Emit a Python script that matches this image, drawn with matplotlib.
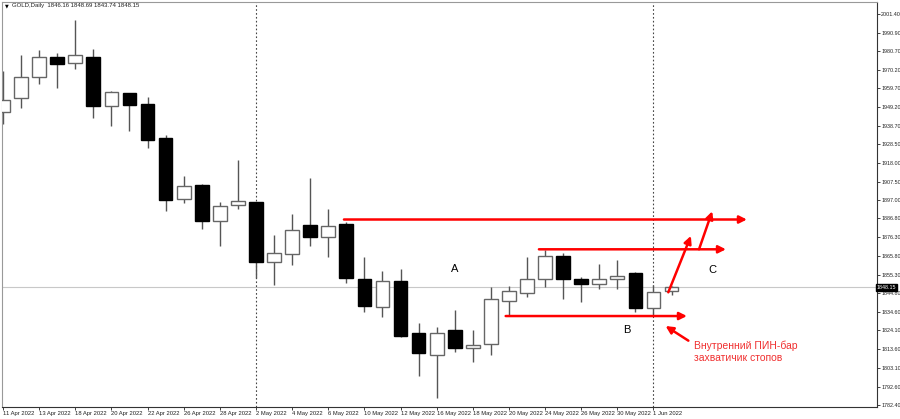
import matplotlib
matplotlib.use("Agg")
import matplotlib.pyplot as plt
import numpy as np

# GOLD daily candles, 11 Apr - 2 Jun 2022
dates = ["11 Apr", "12 Apr", "13 Apr", "14 Apr", "18 Apr", "19 Apr", "20 Apr", "21 Apr",
         "22 Apr", "25 Apr", "26 Apr", "27 Apr", "28 Apr", "29 Apr", "2 May", "3 May",
         "4 May", "5 May", "6 May", "9 May", "10 May", "11 May", "12 May", "13 May",
         "16 May", "17 May", "18 May", "19 May", "20 May", "23 May", "24 May", "25 May",
         "26 May", "27 May", "30 May", "31 May", "1 Jun", "2 Jun"]
opens = [1946.3, 1954.2, 1966.3, 1977.1, 1973.8, 1977.5, 1949.7, 1957.0,
         1951.0, 1931.7, 1897.5, 1905.4, 1885.2, 1894.2, 1895.9, 1862.2,
         1867.1, 1883.1, 1876.2, 1883.5, 1853.0, 1837.3, 1851.9, 1822.4,
         1810.1, 1824.0, 1814.0, 1816.3, 1840.4, 1845.2, 1852.7, 1865.9,
         1852.7, 1849.9, 1852.7, 1856.1, 1836.6, 1846.16]
highs = [1969.5, 1978.4, 1981.1, 1979.7, 1998.0, 1981.6, 1958.2, 1957.3,
         1955.0, 1933.6, 1910.8, 1906.3, 1896.2, 1919.6, 1896.2, 1877.5,
         1889.3, 1909.3, 1891.9, 1885.0, 1865.0, 1857.5, 1858.3, 1828.2,
         1826.1, 1835.5, 1824.2, 1848.6, 1848.8, 1865.0, 1869.1, 1867.6,
         1853.8, 1861.3, 1863.5, 1857.0, 1849.5, 1848.69]
lows = [1939.7, 1948.9, 1962.3, 1959.8, 1970.4, 1942.9, 1938.5, 1936.0,
        1926.1, 1890.8, 1895.3, 1880.7, 1871.4, 1891.9, 1853.3, 1849.5,
        1860.7, 1871.5, 1865.4, 1850.8, 1834.5, 1831.4, 1820.5, 1798.3,
        1786.3, 1812.2, 1806.6, 1810.0, 1832.1, 1843.0, 1848.6, 1841.8,
        1840.1, 1847.4, 1847.4, 1834.4, 1832.1, 1843.74]
closes = [1953.2, 1966.3, 1977.1, 1973.2, 1978.3, 1949.7, 1957.5, 1950.6,
          1931.0, 1897.3, 1904.8, 1885.2, 1894.0, 1896.4, 1862.2, 1867.6,
          1880.3, 1876.6, 1882.6, 1853.6, 1837.9, 1851.9, 1820.8, 1811.4,
          1822.8, 1814.2, 1815.8, 1841.5, 1846.0, 1852.7, 1865.9, 1852.7,
          1849.9, 1852.7, 1854.4, 1836.6, 1845.4, 1848.15]

price_ticks = [2001.40, 1990.90, 1980.70, 1970.20, 1959.70, 1949.20, 1938.70, 1928.50,
               1918.00, 1907.50, 1897.00, 1886.80, 1876.30, 1865.80, 1855.30, 1844.80,
               1834.60, 1824.10, 1813.60, 1803.10, 1792.60, 1782.40]
last_price = 1848.15
separators = ["2 May", "1 Jun"]

# red arrows: (x0, y0, x1, y1) in bar index / price
arrows_x0 = [18.87, 29.66, 27.82, 36.82, 38.52, 37.93]
arrows_y0 = [1886.2, 1869.5, 1832.1, 1845.4, 1869.5, 1818.3]
arrows_x1 = [41.17, 40.01, 37.85, 38.07, 39.25, 36.67]
arrows_y1 = [1886.2, 1869.5, 1832.1, 1877.0, 1890.8, 1826.5]

letters = ["A", "B", "C"]
letters_x = [24.97, 34.55, 39.25]
letters_y = [1858.3, 1824.3, 1857.9]
note = "Внутренний ПИН-бар\nзахватичик стопов"

plt.rcParams['font.family'] = ['Liberation Sans', 'DejaVu Sans']

fig = plt.figure(figsize=(9, 4.19), dpi=100)
ax = fig.add_axes([2 / 900, 1 - 406.5 / 419, 875 / 900, 404.5 / 419])

x = np.arange(len(dates))
o = np.array(opens)
c = np.array(closes)
up = c >= o

# wicks then bodies
ax.vlines(x, lows, highs, color="#555555", lw=1.0, zorder=2)
ax.bar(x[up], (c - o)[up], bottom=o[up], width=0.76, color="white",
       edgecolor="#666666", linewidth=1.0, zorder=3)
ax.bar(x[~up], (o - c)[~up], bottom=c[~up], width=0.76, color="black",
       edgecolor="black", linewidth=1.0, zorder=3)

ax.set_xlim(-0.055, 48.37)
ax.set_ylim(1781.4, 2008.1)

# current price line and month separators
ax.axhline(last_price, color="#c8c8c8", lw=0.8, zorder=1)
for s in separators:
    ax.axvline(dates.index(s), color="#444444", lw=0.8, ls=(0, (1.5, 2)), zorder=1)

# axes look like MT4
ax.yaxis.tick_right()
ax.set_yticks(price_ticks)
ax.set_yticklabels([f"{v:.2f}" for v in price_ticks])
ax.tick_params(axis="y", direction="out", length=2, width=0.6, pad=1.0,
               labelsize=3.9, colors="#222222")
tick_idx = list(range(0, len(dates) - 1, 2))
ax.set_xticks(tick_idx)
ax.set_xticklabels([dates[i] + " 2022" for i in tick_idx], ha="left")
ax.tick_params(axis="x", direction="out", length=2, width=0.6, pad=1.5,
               labelsize=4.2, colors="#222222")
for sp in ["left", "top"]:
    ax.spines[sp].set_color("#999999")
    ax.spines[sp].set_linewidth(0.8)
for sp in ["right", "bottom"]:
    ax.spines[sp].set_color("#333333")
    ax.spines[sp].set_linewidth(0.8)

# last price box on the scale
ax.text(1.0, last_price, f"{last_price:.2f}", transform=ax.get_yaxis_transform(),
        ha="left", va="center", fontsize=3.9, color="white",
        bbox=dict(boxstyle="square,pad=0.12", fc="black", ec="black"), zorder=5,
        clip_on=False)

# red arrows
for x0, y0, x1, y1 in zip(arrows_x0, arrows_y0, arrows_x1, arrows_y1):
    ax.annotate("", xy=(x1, y1), xytext=(x0, y0),
                arrowprops=dict(arrowstyle="-|>", color="#ff0000", lw=1.8,
                                mutation_scale=11, shrinkA=0, shrinkB=0),
                zorder=6)

for t, lx, ly in zip(letters, letters_x, letters_y):
    ax.text(lx, ly, t, ha="center", va="center", fontsize=8, color="black")

ax.text(38.24, 1812.3, note, ha="left", va="center", fontsize=7.5,
        color="#f03030", linespacing=1.25)

# header
fig.text(5 / 900, 1 - 6 / 419, "▼", fontsize=3.5, color="black", va="center",
         family="DejaVu Sans")
fig.text(12 / 900, 1 - 6 / 419, "GOLD,Daily  1846.16 1848.69 1843.74 1848.15",
         fontsize=4.3, color="#222222", va="center")

fig.savefig("out.png", dpi=100, facecolor="white")
